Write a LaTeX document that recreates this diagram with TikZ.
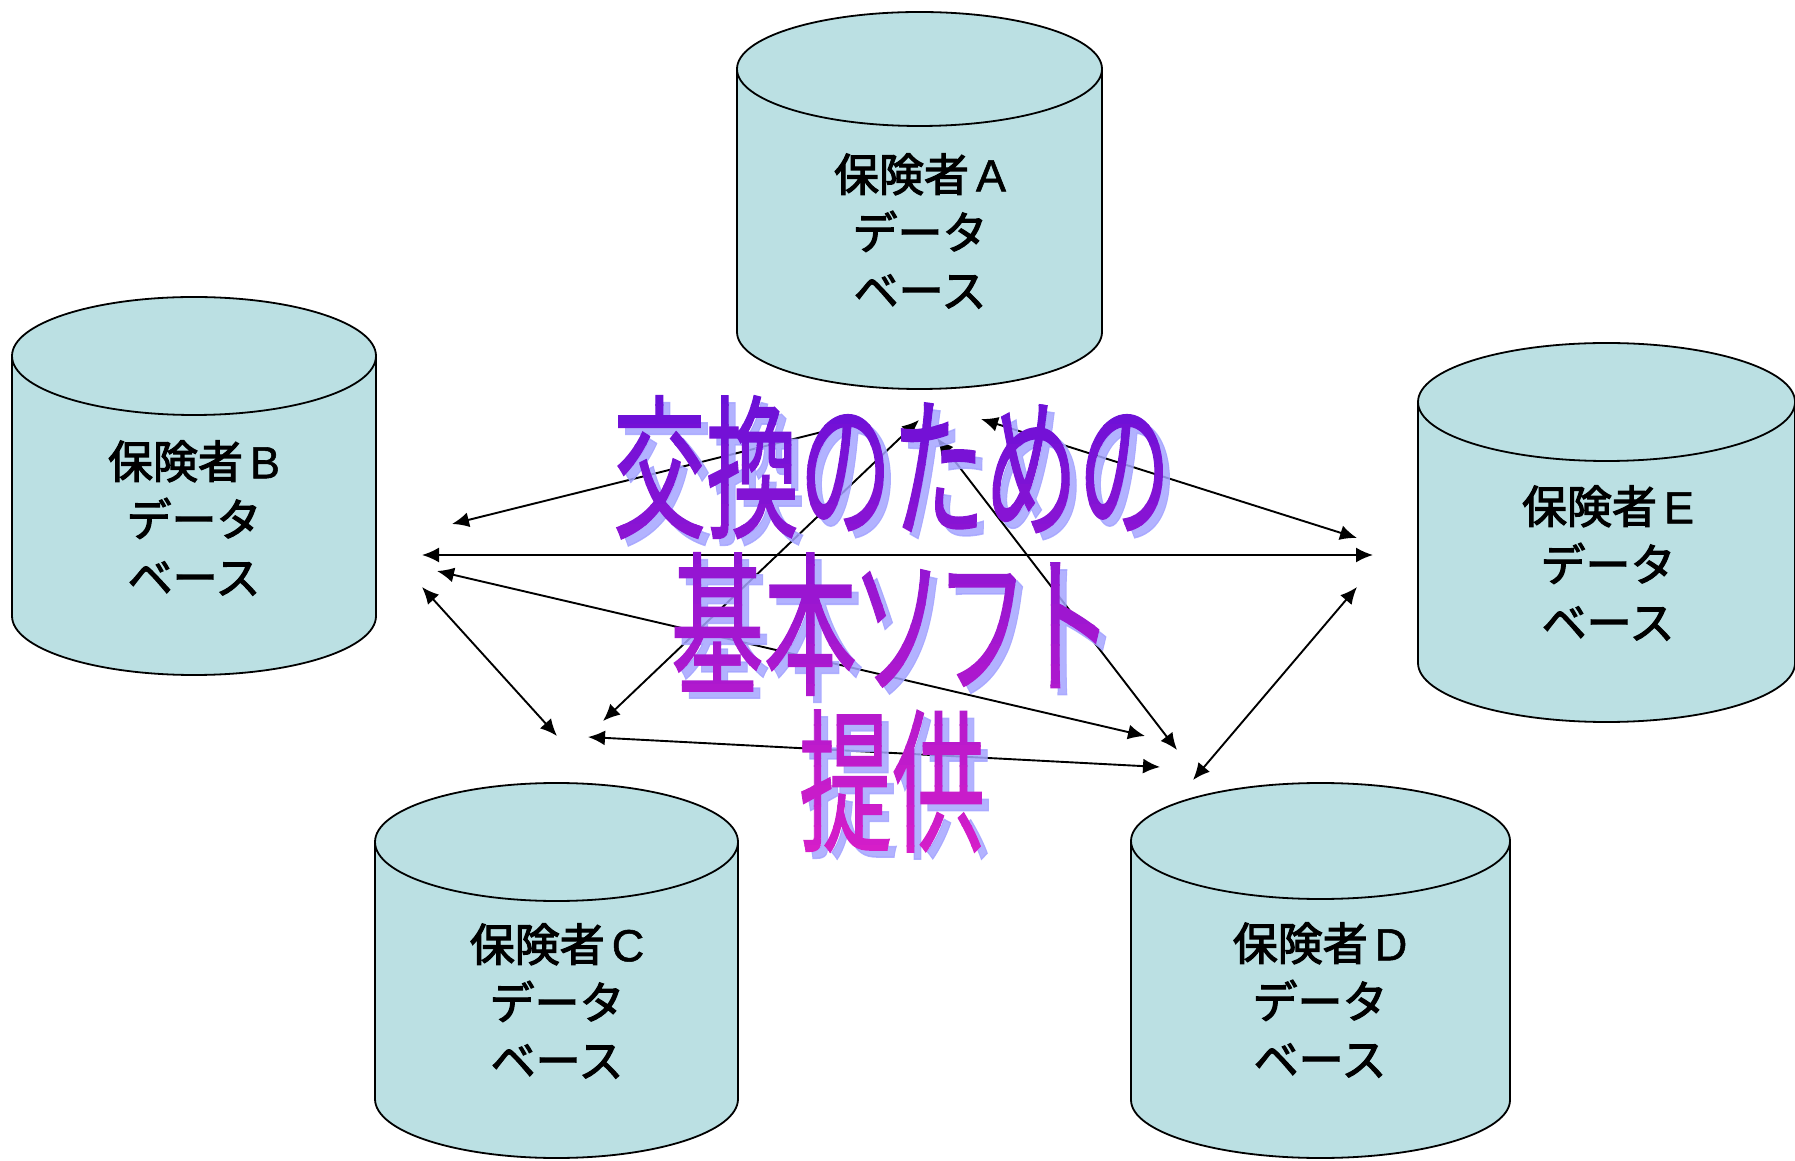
\documentclass[tikz,border=0pt]{standalone}
\usepackage{fontspec}
\newfontfamily\jpfont{Noto Sans CJK JP}[FakeBold=2.5]
\newfontfamily\jpwafont{Noto Sans CJK JP}[FakeBold=1]
\newfontfamily\latinfont{Liberation Sans}[FakeBold=1.2]
\usetikzlibrary{arrows.meta}
\definecolor{cylfill}{RGB}{187,224,227}
\definecolor{washadow}{RGB}{164,164,255}
\definecolor{watop}{RGB}{106,16,216}
\definecolor{wabot}{RGB}{214,30,200}
\tikzset{
  cyl/.style={fill=cylfill, draw=black, line width=1.8pt, line join=round},
  cylrim/.style={draw=black, line width=1.8pt},
  dblabel/.style={font=\jpfont\fontsize{45}{58}\selectfont, align=center, text=black, inner sep=0pt},
  link/.style={{Latex[length=17pt,width=15pt]}-{Latex[length=17pt,width=15pt]}, line width=1.9pt},
  wafont/.style={font=\jpwafont\fontsize{155}{157}\selectfont, align=center, inner sep=0pt, xscale=0.6},
}
\newcommand{\dbcyl}[5]{%
  \path[cyl] ({#1-#2},#4) -- ({#1-#2},#5)
    arc[start angle=180,end angle=360,x radius=#2,y radius=#3]
    -- ({#1+#2},#4)
    arc[start angle=0,end angle=180,x radius=#2,y radius=#3] -- cycle;
  \draw[cylrim] ({#1-#2},#4) arc[start angle=180,end angle=360,x radius=#2,y radius=#3];}
\newcommand{\watext}{交換のための\\基本\kern-10pt ソ\kern-14pt フ\kern-14pt ト\\提供}
\newcommand{\dbtext}[1]{保険者\kern7pt{\latinfont #1}\\データ\\ベース}
\begin{document}
\begin{tikzpicture}[x=1pt,y=1pt]
\useasboundingbox (0,0) rectangle (1795,1160);
% database cylinders
\dbcyl{919.5}{182.5}{57}{1091}{828}
\dbcyl{194}{182}{59}{804}{544}
\dbcyl{1606.5}{188.5}{59}{758}{497}
\dbcyl{556.5}{181.5}{59}{318}{61}
\dbcyl{1320.5}{189.5}{58}{319}{60}
% labels
\node[dblabel] (A) at (920,929) {\dbtext{A}};
\node[dblabel] (B) at (194,642) {\dbtext{B}};
\node[dblabel] (E) at (1608,597) {\dbtext{E}};
\node[dblabel] (C) at (557,159) {\dbtext{C}};
\node[dblabel] (D) at (1320,160) {\dbtext{D}};
% connector end points
\coordinate (ab1) at (858,737); \coordinate (ab2) at (452,636);
\coordinate (be1) at (422,605); \coordinate (be2) at (1373,605);
\coordinate (bd1) at (437,589); \coordinate (bd2) at (1145,424);
\coordinate (bc1) at (422,573); \coordinate (bc2) at (557,424);
\coordinate (ca1) at (603,439); \coordinate (ca2) at (919,740);
\coordinate (cd1) at (588,423); \coordinate (cd2) at (1160,393);
\coordinate (ad1) at (937,722); \coordinate (ad2) at (1177,410);
\coordinate (ae1) at (981,741); \coordinate (ae2) at (1357,622);
\coordinate (ed1) at (1357,573); \coordinate (ed2) at (1193,380);
\draw[link] (ab1) -- (ab2);
\draw[link] (be1) -- (be2);
\draw[link] (bd1) -- (bd2);
\draw[link] (bc1) -- (bc2);
\draw[link] (ca1) -- (ca2);
\draw[link] (cd1) -- (cd2);
\draw[link] (ad1) -- (ad2);
\draw[link] (ae1) -- (ae2);
\draw[link] (ed1) -- (ed2);
% word art: shadow then gradient text
\node[wafont, text=washadow, text opacity=0.85] (wash) at (899,529) {\watext};
\foreach \i in {0,...,23}{
  \pgfmathtruncatemacro\pct{100-\i*100/23}
  \begin{scope}
    \clip (550,{775-20*\i}) rectangle (1250,{775-20*\i-21});
    \node[wafont, text=watop!\pct!wabot] (wa\i) at (892,536) {\watext};
  \end{scope}
}
\end{tikzpicture}
\end{document}
